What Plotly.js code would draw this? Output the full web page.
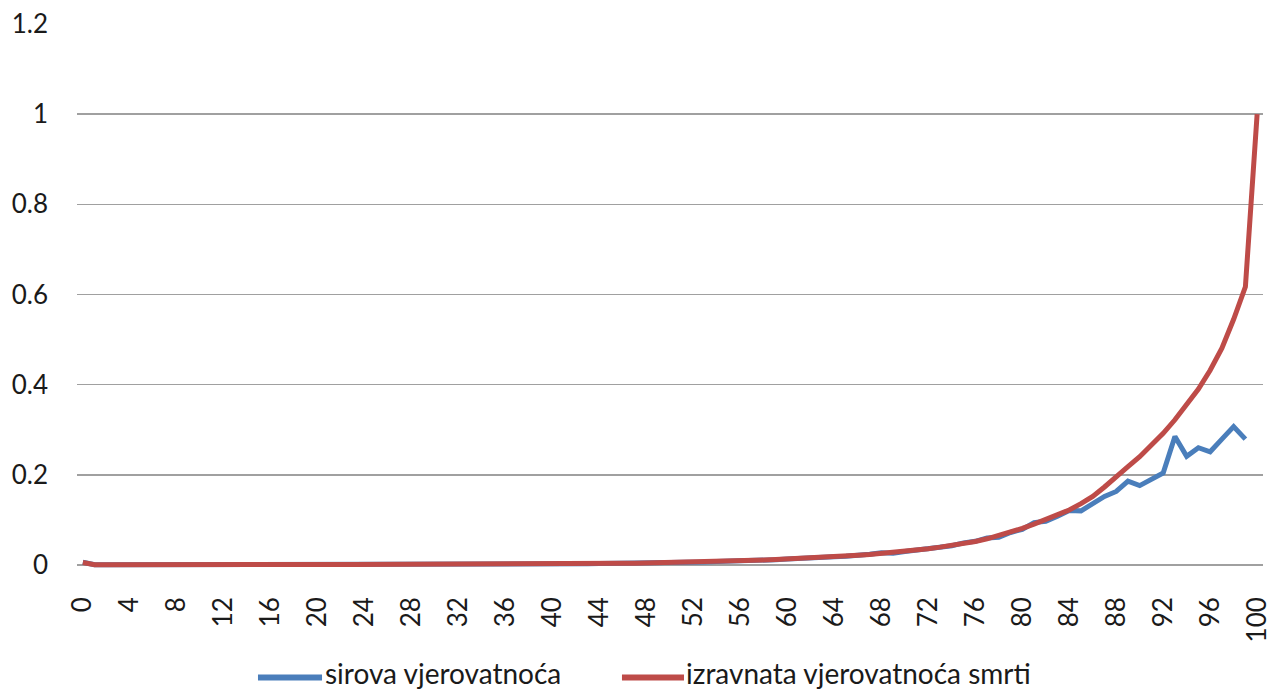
<!DOCTYPE html>
<html>
<head>
<meta charset="utf-8">
<script src="https://cdn.plot.ly/plotly-3.0.1.min.js"></script>
<style>html,body{margin:0;padding:0;background:#fff;}#chart{width:1279px;height:693px;}</style>
</head>
<body>
<div id="chart"></div>
<script>
// Ages (categories 0..100)
const ages = Array.from({length: 101}, (_, i) => i);
const xTickVals = [0,4,8,12,16,20,24,28,32,36,40,44,48,52,56,60,64,68,72,76,80,84,88,92,96,100];
const xTickText = ["0","4","8","12","16","20","24","28","32","36","40","44","48","52","56","60","64","68","72","76","80","84","88","92","96","100"];

const seriesNames = ["sirova vjerovatnoća", "izravnata vjerovatnoća smrti"];
const seriesColors = ["#4A7EBB", "#BE4B48"];

// sirova vjerovatnoća (ages 0..99)
const rawProb = [
0.0060,0.0005,0.0003,0.0003,0.0002,0.0002,0.0003,0.0002,0.0001,0.0002,
0.0002,0.0001,0.0003,0.0002,0.0004,0.0005,0.0007,0.0006,0.0009,0.0010,
0.0008,0.0009,0.0010,0.0008,0.0009,0.0010,0.0008,0.0009,0.0011,0.0009,
0.0010,0.0012,0.0011,0.0014,0.0013,0.0016,0.0015,0.0018,0.0017,0.0020,
0.0021,0.0021,0.0025,0.0026,0.0031,0.0032,0.0037,0.0039,0.0046,0.0047,
0.0055,0.0056,0.0064,0.0068,0.0079,0.0081,0.0094,0.0097,0.0110,0.0115,
0.0132,0.0138,0.0150,0.0170,0.0182,0.0195,0.0210,0.0236,0.0268,0.0262,
0.0300,0.0325,0.0364,0.0398,0.0425,0.0490,0.0525,0.0600,0.0612,0.0720,
0.0790,0.0940,0.0970,0.1080,0.1210,0.1200,0.1350,0.1520,0.1630,0.1860,
0.1760,0.1910,0.2040,0.2850,0.2410,0.2600,0.2510,0.2790,0.3070,0.2790
];

// izravnata vjerovatnoća smrti (ages 0..100)
const smoothProb = [
0.0055,0.0006,0.0004,0.0003,0.0003,0.0003,0.0002,0.0002,0.0002,0.0002,
0.0002,0.0002,0.0003,0.0003,0.0004,0.0005,0.0006,0.0007,0.0008,0.0008,
0.0009,0.0009,0.0009,0.0009,0.0009,0.0009,0.0009,0.0009,0.0010,0.0010,
0.0011,0.0011,0.0012,0.0013,0.0014,0.0015,0.0016,0.0017,0.0018,0.0019,
0.0020,0.0022,0.0024,0.0027,0.0030,0.0033,0.0036,0.0040,0.0044,0.0048,
0.0053,0.0058,0.0063,0.0069,0.0076,0.0083,0.0091,0.0099,0.0108,0.0118,
0.0129,0.0140,0.0153,0.0166,0.0181,0.0197,0.0214,0.0233,0.0254,0.0277,
0.0302,0.0330,0.0361,0.0395,0.0432,0.0474,0.0520,0.0580,0.0648,0.0724,
0.0810,0.0905,0.1000,0.1100,0.1220,0.1360,0.1520,0.1730,0.1970,0.2180,
0.2400,0.2650,0.2920,0.3220,0.3550,0.3900,0.4320,0.4810,0.5450,0.6170,
1.0000
];

const yTickVals = [0, 0.2, 0.4, 0.6, 0.8, 1, 1.2];
const yTickText = ["0", "0.2", "0.4", "0.6", "0.8", "1", "1.2"];

const FONT = "Lato, 'Open Sans', sans-serif";
const TEXT_COLOR = "#1a1a1a";

const traces = [
  {
    x: ages.slice(0, rawProb.length), y: rawProb, name: seriesNames[0],
    type: "scatter", mode: "lines", showlegend: false,
    line: {color: seriesColors[0], width: 5}
  },
  {
    x: ages, y: smoothProb, name: seriesNames[1],
    type: "scatter", mode: "lines", showlegend: false,
    line: {color: seriesColors[1], width: 5}
  }
];

// Legend drawn below the plot (paper coordinates)
const legendLineY = -0.199;
const legendTextY = -0.191;
const legendItems = [
  {x0: 0.1526, x1: 0.2066, tx: 0.2085},
  {x0: 0.4595, x1: 0.5118, tx: 0.5130}
];
const shapes = legendItems.map((it, i) => ({
  type: "line", xref: "paper", yref: "paper",
  x0: it.x0, x1: it.x1, y0: legendLineY, y1: legendLineY,
  line: {color: seriesColors[i], width: 6}
}));
const annotations = legendItems.map((it, i) => ({
  xref: "paper", yref: "paper", x: it.tx, y: legendTextY,
  xanchor: "left", yanchor: "middle", showarrow: false,
  borderpad: 0,
  text: seriesNames[i],
  font: {family: FONT, size: 28, color: TEXT_COLOR}
}));

const layout = {
  width: 1279, height: 693,
  paper_bgcolor: "#ffffff", plot_bgcolor: "#ffffff",
  margin: {l: 77, r: 16, t: 24, b: 124, pad: 0, autoexpand: false},
  font: {family: FONT, size: 24, color: TEXT_COLOR},
  showlegend: false,
  shapes: shapes,
  annotations: annotations,
  xaxis: {
    type: "linear", range: [-0.5, 100.5], automargin: false,
    tickmode: "array", tickvals: xTickVals, ticktext: xTickText,
    tickangle: -90, ticks: "", showgrid: false, zeroline: false, showline: false,
    ticklabelstandoff: 22,
    tickfont: {family: FONT, size: 26, color: TEXT_COLOR},
    fixedrange: true
  },
  yaxis: {
    range: [-0.009, 1.2], automargin: false,
    tickmode: "array", tickvals: yTickVals, ticktext: yTickText,
    showgrid: true, gridcolor: "#a0a0a0", gridwidth: 1.6,
    zeroline: false, showline: false, ticks: "",
    ticklabelstandoff: 28,
    tickfont: {family: FONT, size: 26, color: TEXT_COLOR},
    fixedrange: true
  }
};

Plotly.newPlot("chart", traces, layout, {displayModeBar: false, staticPlot: true});
</script>
</body>
</html>
